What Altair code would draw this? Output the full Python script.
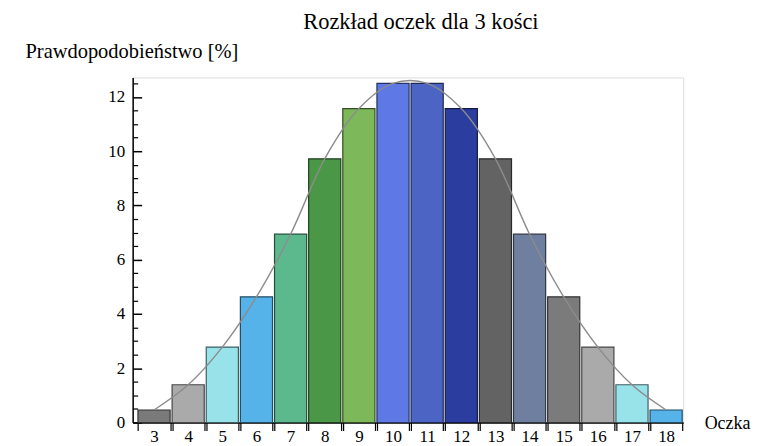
import altair as alt
import pandas as pd

# ---- data ----
oczka = [3, 4, 5, 6, 7, 8, 9, 10, 11, 12, 13, 14, 15, 16, 17, 18]
procent = [0.46, 1.39, 2.78, 4.63, 6.94, 9.72, 11.57, 12.50,
           12.50, 11.57, 9.72, 6.94, 4.63, 2.78, 1.39, 0.46]
kolory = ["#7a7a7a", "#aaaaaa", "#98e2ea", "#55b3ea", "#5bb98d", "#4a9748",
          "#7db85a", "#5e79e6", "#4c65c4", "#2b3d9e", "#636363", "#6e7fa0",
          "#7b7b7b", "#aaaaaa", "#98e2ea", "#55b3ea"]
y_ticks_major = [0, 2, 4, 6, 8, 10, 12]
y_ticks_minor = [0.5, 1, 1.5, 2.5, 3, 3.5, 4.5, 5, 5.5, 6.5, 7, 7.5, 8.5, 9, 9.5,
                 10.5, 11, 11.5, 12.5]


def darken(hexcol, f=0.42):
    r, g, b = (int(hexcol[i:i + 2], 16) for i in (1, 3, 5))
    return "#%02x%02x%02x" % (int(r * f), int(g * f), int(b * f))


df = pd.DataFrame({"oczka": oczka, "pct": procent})
df["lo"] = df["oczka"] - 0.5
df["hi"] = df["oczka"] + 0.5
df["kat"] = df["oczka"].astype(str)

edge_vals = []
for c in oczka:
    edge_vals += [c - 0.47, c + 0.47]

FONT = "Liberation Serif"
W, H = 552, 346
xscale = alt.Scale(domain=[2.374, 18.5], nice=False, zero=False)
yscale = alt.Scale(domain=[0, 12.72], nice=False)

bars = alt.Chart(df).mark_rect(strokeWidth=1.2, xOffset=1, x2Offset=-1).encode(
    x=alt.X("lo:Q", scale=xscale, axis=alt.Axis(
        orient="bottom", values=oczka, ticks=False, tickSize=0, labelPadding=6,
        domain=True, domainColor="black", domainWidth=1.5, grid=False,
        labelFont=FONT, labelFontSize=17, labelColor="black",
        labelFlush=False, labelOverlap=False,
        title="Oczka", titleFont=FONT, titleFontSize=18, titleFontWeight="normal",
        titleColor="black", titleAngle=0, titleAlign="left",
        titleBaseline="alphabetic", titleX=573, titleY=6)),
    x2="hi:Q",
    y=alt.Y("pct:Q", scale=yscale, axis=alt.Axis(
        orient="left", values=y_ticks_major, ticks=False, tickSize=0,
        labelPadding=8, domain=True, domainColor="black", domainWidth=1.5,
        grid=False, labelFont=FONT, labelFontSize=17, labelColor="black",
        title="Prawdopodobieństwo [%]", titleFont=FONT, titleFontSize=20.5,
        titleFontWeight="normal", titleColor="black", titleAngle=0,
        titleAlign="left", titleBaseline="alphabetic", titleX=-108, titleY=-20)),
    y2=alt.Y2(datum=0),
    color=alt.Color("kat:N", scale=alt.Scale(domain=[str(c) for c in oczka],
                                             range=kolory), legend=None),
    stroke=alt.Stroke("kat:N", scale=alt.Scale(domain=[str(c) for c in oczka],
                                               range=[darken(c) for c in kolory]),
                      legend=None),
)

line = alt.Chart(df).mark_line(interpolate="catmull-rom", color="#8c8c8c",
                               strokeWidth=1.4).encode(
    x=alt.X("oczka:Q", scale=xscale, axis=alt.Axis(
        orient="bottom", values=edge_vals, labels=False, domain=False,
        tickSize=8, tickColor="black", tickWidth=1.2, grid=False, title=None)),
    y=alt.Y("pct:Q", scale=yscale, axis=alt.Axis(
        orient="right", offset=-W, values=y_ticks_major, labels=False,
        domain=False, tickSize=9, tickColor="black", tickWidth=1.5,
        grid=False, title=None)),
)

minor = alt.Chart(df).mark_point(opacity=0).encode(
    x=alt.X("oczka:Q", scale=xscale, axis=None),
    y=alt.Y("pct:Q", scale=yscale, axis=alt.Axis(
        orient="right", offset=-W, values=y_ticks_minor, labels=False,
        domain=False, tickSize=5, tickColor="black", tickWidth=1.2,
        grid=False, title=None)),
)

chart = alt.layer(bars, line, minor).resolve_axis(
    x="independent", y="independent"
).properties(
    width=W, height=H,
    autosize=alt.AutoSizeParams(type="none"),
    padding={"left": 125, "top": 69, "right": 70, "bottom": 23},
    title=alt.TitleParams("Rozkład oczek dla 3 kości", font=FONT, fontSize=22.5,
                          fontWeight="normal", color="black", anchor="middle",
                          dx=13, offset=8),
).configure_view(stroke=None).configure(background="white")

chart.save("out.html", embed_options={"renderer": "svg", "actions": False})
